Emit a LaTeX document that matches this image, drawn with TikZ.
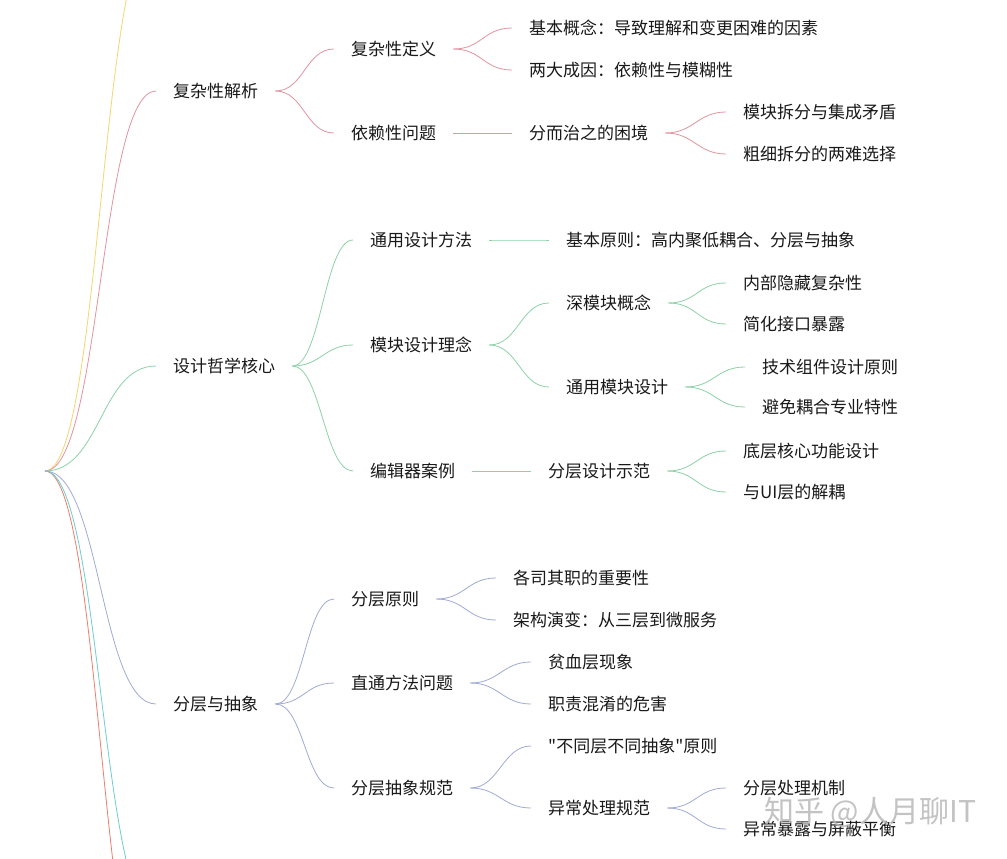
\documentclass[tikz,border=0pt]{standalone}
\usepackage{fontspec}
\newfontfamily\cjk{Noto Sans CJK SC}
\definecolor{txt}{RGB}{25,25,25}
\definecolor{cpink}{RGB}{226,148,160}
\definecolor{cgreen}{RGB}{140,210,168}
\definecolor{cblue}{RGB}{160,170,215}
\definecolor{cyellow}{RGB}{244,214,110}
\definecolor{cteal}{RGB}{110,205,205}
\definecolor{cred}{RGB}{235,125,105}
\begin{document}
\begin{tikzpicture}[x=1pt,y=-1pt,
  t/.style={anchor=west,inner xsep=17pt,inner ysep=1pt,font=\cjk\fontsize{17}{20}\selectfont,text=txt},
  fork/.style={to path={.. controls +(28.5,0) and +(-28.5,0) .. (\tikztotarget)}},
  trunk/.style={to path={.. controls +(56,0) and +(-56,0) .. (\tikztotarget)}},
  lnk/.style={line width=0.8pt},
  wmark/.style={font=\cjk\fontsize{30}{34}\selectfont,text=gray!55,opacity=0.85}]
\path[use as bounding box] (0,0) rectangle (1007,859);
\fill[white] (0,0) rectangle (1007,859);
\clip (0,0) rectangle (1007,859);

\coordinate (root) at (45,471);
\coordinate (up) at (157,-71);
\coordinate (dn1) at (157,919);
\coordinate (dn2) at (157,1027);

% level 1
\node[t] (r1) at (156,91) {复杂性解析};
\node[t] (r2) at (156,366) {设计哲学核心};
\node[t] (r3) at (156,704) {分层与抽象};
% level 2
\node[t] (a1) at (334,49) {复杂性定义};
\node[t] (a2) at (334,133) {依赖性问题};
\node[t] (b1) at (353,240) {通用设计方法};
\node[t] (b2) at (353,345) {模块设计理念};
\node[t] (b3) at (353,471) {编辑器案例};
\node[t] (c1) at (334,599) {分层原则};
\node[t] (c2) at (334,683) {直通方法问题};
\node[t] (c3) at (334,788) {分层抽象规范};
% level 3
\node[t] (a11) at (512,28) {基本概念：导致理解和变更困难的因素};
\node[t] (a12) at (512,70) {两大成因：依赖性与模糊性};
\node[t] (a21) at (512,133) {分而治之的困境};
\node[t] (b11) at (549,240) {基本原则：高内聚低耦合、分层与抽象};
\node[t] (b21) at (549,303) {深模块概念};
\node[t] (b22) at (549,387) {通用模块设计};
\node[t] (b31) at (531,471) {分层设计示范};
\node[t] (c11) at (496,578) {各司其职的重要性};
\node[t] (c12) at (496,620) {架构演变：从三层到微服务};
\node[t] (c21) at (531,662) {贫血层现象};
\node[t] (c22) at (531,704) {职责混淆的危害};
\node[t] (c31) at (531,746) {"不同层不同抽象"原则};
\node[t] (c32) at (531,808) {异常处理规范};
% level 4
\node[t] (a211) at (726,112) {模块拆分与集成矛盾};
\node[t] (a212) at (726,154) {粗细拆分的两难选择};
\node[t] (b211) at (726,283) {内部隐藏复杂性};
\node[t] (b212) at (726,324) {简化接口暴露};
\node[t] (b221) at (745,367) {技术组件设计原则};
\node[t] (b222) at (745,407) {避免耦合专业特性};
\node[t] (b311) at (726,451) {底层核心功能设计};
\node[t] (b312) at (726,492) {与UI层的解耦};
\node[t] (c321) at (726,788) {分层处理机制};
\node[t] (c322) at (726,829) {异常暴露与屏蔽平衡};

% trunk connectors
\draw[lnk,cyellow] (root) to[trunk] (up);
\draw[lnk,cred] (root) to[trunk] (dn2);
\draw[lnk,cteal] (root) to[trunk] (dn1);
\draw[lnk,cpink] (root) to[trunk] (r1.west);
\draw[lnk,cgreen] (root) to[trunk] (r2.west);
\draw[lnk,cblue] (root) to[trunk] (r3.west);

% pink branch
\begin{scope}[lnk,cpink]
\draw (r1.east) to[fork] (a1.west);
\draw (r1.east) to[fork] (a2.west);
\draw (a1.east) to[fork] (a11.west);
\draw (a1.east) to[fork] (a12.west);
\draw (a2.east) to[fork] (a21.west);
\draw (a21.east) to[fork] (a211.west);
\draw (a21.east) to[fork] (a212.west);
\end{scope}

% green branch
\begin{scope}[lnk,cgreen]
\draw (r2.east) to[fork] (b1.west);
\draw (r2.east) to[fork] (b2.west);
\draw (r2.east) to[fork] (b3.west);
\draw (b1.east) to[fork] (b11.west);
\draw (b2.east) to[fork] (b21.west);
\draw (b2.east) to[fork] (b22.west);
\draw (b3.east) to[fork] (b31.west);
\draw (b21.east) to[fork] (b211.west);
\draw (b21.east) to[fork] (b212.west);
\draw (b22.east) to[fork] (b221.west);
\draw (b22.east) to[fork] (b222.west);
\draw (b31.east) to[fork] (b311.west);
\draw (b31.east) to[fork] (b312.west);
\end{scope}

% blue branch
\begin{scope}[lnk,cblue]
\draw (r3.east) to[fork] (c1.west);
\draw (r3.east) to[fork] (c2.west);
\draw (r3.east) to[fork] (c3.west);
\draw (c1.east) to[fork] (c11.west);
\draw (c1.east) to[fork] (c12.west);
\draw (c2.east) to[fork] (c21.west);
\draw (c2.east) to[fork] (c22.west);
\draw (c3.east) to[fork] (c31.west);
\draw (c3.east) to[fork] (c32.west);
\draw (c32.east) to[fork] (c321.west);
\draw (c32.east) to[fork] (c322.west);
\end{scope}

% watermark
\node[wmark,anchor=west,inner sep=0pt] (wm) at (764,812) {知乎 @人月聊IT};
\end{tikzpicture}
\end{document}
